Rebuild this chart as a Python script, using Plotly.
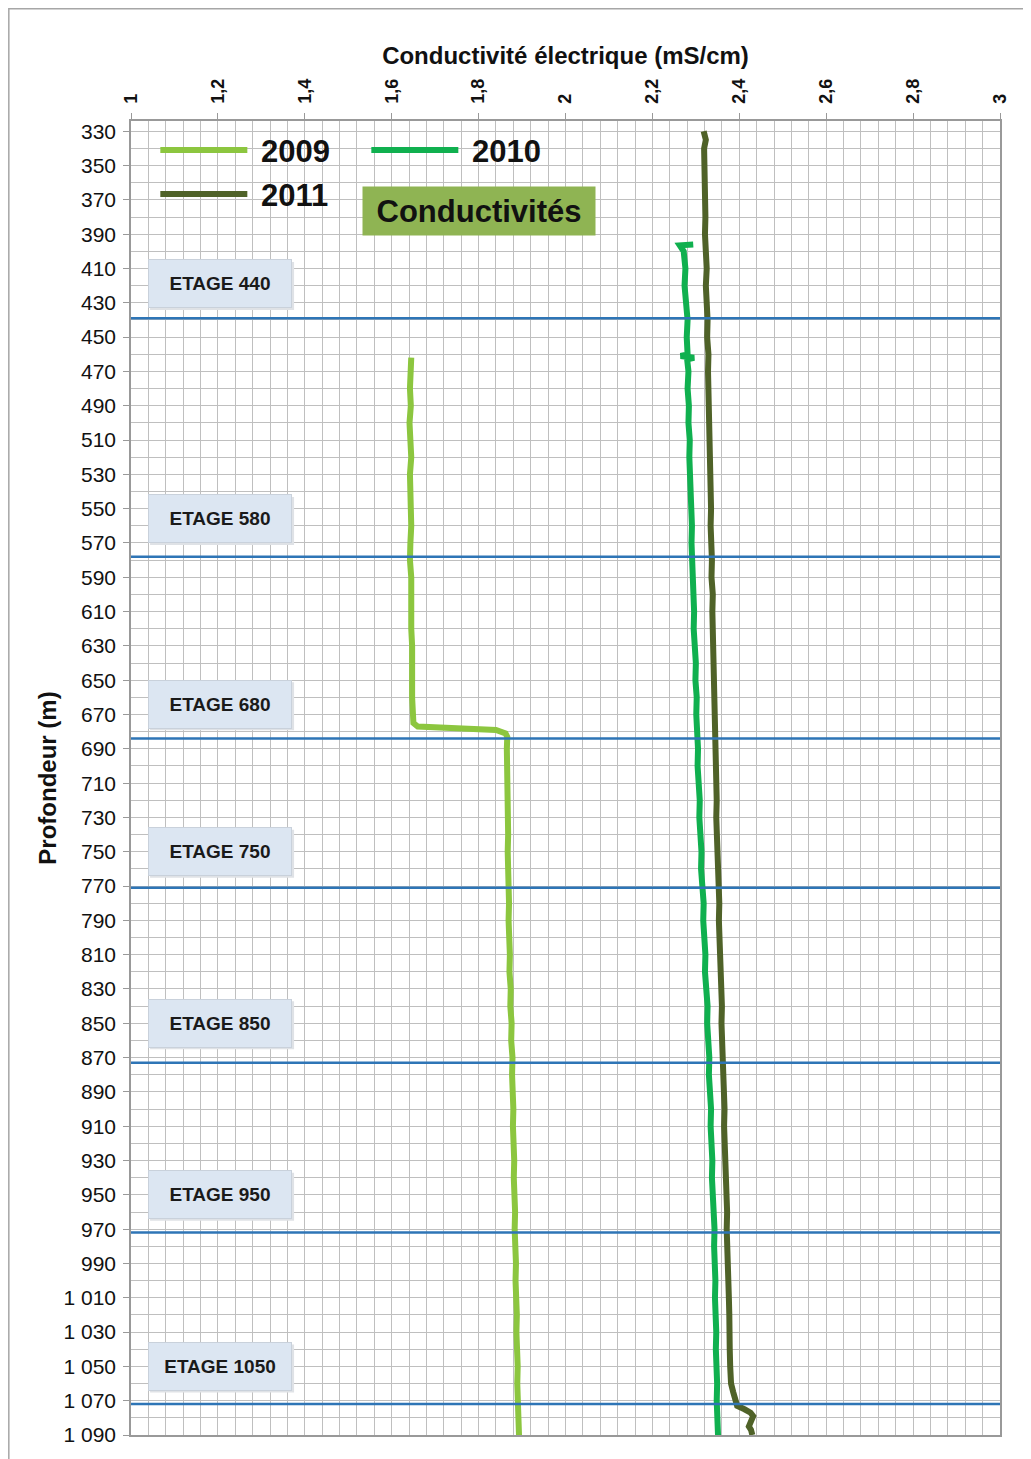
#!/usr/bin/env python3
"""Profils de conductivité électrique 2009-2011 (Plotly HTML)."""

import plotly.graph_objects as go

FONT = "Liberation Sans, Arial, sans-serif"

# --- 2009 ---------------------------------------------------------------
DEPTH_2009 = [
    462, 470, 480, 490, 500, 510, 520, 530, 540, 550, 560, 570, 580, 590,
    600, 610, 620, 630, 640, 650, 660, 670, 675, 677, 678, 679, 681, 683,
    690, 700, 710, 720, 730, 740, 750, 760, 770, 780, 790, 800, 810, 820,
    830, 840, 850, 860, 870, 880, 890, 900, 910, 920, 930, 940, 950, 960,
    970, 980, 990, 1000, 1010, 1020, 1030, 1040, 1050, 1060, 1070, 1080, 1090,
]
COND_2009 = [
    1.645, 1.643, 1.642, 1.644, 1.641, 1.643, 1.645, 1.642, 1.644, 1.643, 1.645, 1.643, 1.642, 1.645,
    1.644, 1.646, 1.645, 1.647, 1.646, 1.648, 1.647, 1.649, 1.650, 1.660, 1.760, 1.840, 1.862, 1.866,
    1.865, 1.866, 1.864, 1.867, 1.866, 1.868, 1.867, 1.869, 1.868, 1.870, 1.869, 1.871, 1.872, 1.871,
    1.874, 1.873, 1.876, 1.875, 1.878, 1.877, 1.879, 1.880, 1.879, 1.881, 1.882, 1.881, 1.883, 1.884,
    1.883, 1.885, 1.886, 1.885, 1.887, 1.888, 1.887, 1.889, 1.890, 1.889, 1.891, 1.892, 1.893,
]

# --- 2010 ---------------------------------------------------------------
DEPTH_2010 = [
    396, 396.5, 400, 410, 420, 430, 440, 450, 460, 461, 462, 463, 470, 480,
    490, 500, 510, 520, 530, 540, 550, 560, 570, 580, 590, 600, 610, 620,
    630, 640, 650, 660, 670, 680, 690, 700, 710, 720, 730, 740, 750, 760,
    770, 780, 790, 800, 810, 820, 830, 840, 850, 860, 870, 880, 890, 900,
    910, 920, 930, 940, 950, 960, 970, 980, 990, 1000, 1010, 1020, 1030,
    1040, 1050, 1060, 1070, 1080, 1090,
]
COND_2010 = [
    2.294, 2.263, 2.272, 2.276, 2.274, 2.278, 2.281, 2.279, 2.281, 2.265, 2.296, 2.280, 2.283, 2.281,
    2.284, 2.283, 2.286, 2.285, 2.287, 2.289, 2.288, 2.291, 2.290, 2.292, 2.294, 2.293, 2.296, 2.295,
    2.298, 2.300, 2.299, 2.302, 2.301, 2.304, 2.305, 2.304, 2.307, 2.309, 2.308, 2.311, 2.313, 2.312,
    2.316, 2.318, 2.317, 2.320, 2.322, 2.321, 2.325, 2.327, 2.326, 2.329, 2.331, 2.330, 2.333, 2.335,
    2.334, 2.337, 2.338, 2.337, 2.340, 2.341, 2.343, 2.342, 2.344, 2.345, 2.344, 2.346, 2.347,
    2.346, 2.348, 2.349, 2.348, 2.350, 2.351,
]

# --- 2011 ---------------------------------------------------------------
DEPTH_2011 = [
    330, 335, 340, 350, 360, 370, 380, 390, 400, 410, 420, 430, 440, 450,
    460, 470, 480, 490, 500, 510, 520, 530, 540, 550, 560, 570, 580, 590,
    600, 610, 620, 630, 640, 650, 660, 670, 680, 690, 700, 710, 720, 730,
    740, 750, 760, 770, 780, 790, 800, 810, 820, 830, 840, 850, 860, 870,
    880, 890, 900, 910, 920, 930, 940, 950, 960, 970, 980, 990, 1000, 1010,
    1020, 1030, 1040, 1050, 1060, 1065, 1070, 1073, 1075, 1077, 1079, 1082,
    1085, 1087, 1090,
]
COND_2011 = [
    2.318, 2.323, 2.319, 2.320, 2.322, 2.320, 2.322, 2.321, 2.323, 2.325, 2.323, 2.326, 2.327, 2.326,
    2.329, 2.328, 2.329, 2.331, 2.330, 2.331, 2.333, 2.332, 2.333, 2.335, 2.334, 2.336, 2.337, 2.336,
    2.339, 2.338, 2.339, 2.341, 2.340, 2.341, 2.343, 2.342, 2.344, 2.346, 2.345, 2.346, 2.348, 2.347,
    2.349, 2.351, 2.350, 2.352, 2.354, 2.353, 2.355, 2.357, 2.356, 2.358, 2.360, 2.359, 2.361, 2.363,
    2.362, 2.364, 2.366, 2.365, 2.367, 2.369, 2.368, 2.370, 2.372, 2.371, 2.373, 2.375, 2.374, 2.376,
    2.377, 2.376, 2.378, 2.379, 2.381, 2.386, 2.392, 2.395, 2.412, 2.426, 2.432, 2.428,
    2.422, 2.427, 2.430,
]

SERIES = [
    ("2009", DEPTH_2009, COND_2009, "#8cc63f", "legend"),
    ("2010", DEPTH_2010, COND_2010, "#10b04f", "legend"),
    ("2011", DEPTH_2011, COND_2011, "#4f6228", "legend2"),
]

# mine levels: label, depth of the blue line, depth of the label box
ETAGE_LABELS = ["ETAGE 440", "ETAGE 580", "ETAGE 680", "ETAGE 750", "ETAGE 850", "ETAGE 950", "ETAGE 1050"]
ETAGE_LINES = [439, 578, 684, 771, 873, 972, 1072]
ETAGE_BOX_Y = [419, 556, 664, 750, 850, 950, 1050]
ETAGE_BOX_X = 1.205

X_TICKS = [1, 1.2, 1.4, 1.6, 1.8, 2, 2.2, 2.4, 2.6, 2.8, 3]


def build_figure() -> go.Figure:
    fig = go.Figure()
    for name, depth, cond, color, leg in SERIES:
        fig.add_trace(
            go.Scatter(
                x=cond,
                y=depth,
                name=" " + name,
                mode="lines",
                line=dict(color=color, width=6),
                legend=leg,
                hovertemplate=name + " : %{x:.3f} mS/cm<br>%{y} m<extra></extra>",
            )
        )

    shapes = [
        dict(
            type="line", xref="paper", yref="y", x0=0, x1=1, y0=d, y1=d,
            line=dict(color="#2e75b6", width=2.5), layer="above",
        )
        for d in ETAGE_LINES
    ]
    # soft drop shadow under the level boxes
    shapes += [
        dict(
            type="rect", xref="x", yref="y",
            xsizemode="pixel", ysizemode="pixel",
            xanchor=ETAGE_BOX_X, yanchor=yb,
            x0=-70, x1=74, y0=-26, y1=22,
            fillcolor="#dfe2e6", line=dict(width=0), layer="above",
        )
        for yb in ETAGE_BOX_Y
    ]
    # outer frame of the picture
    shapes.append(
        dict(
            type="rect", xref="paper", yref="paper",
            x0=-0.1406, x1=1.04, y0=-0.03, y1=1.0854,
            line=dict(color="#a6a6a6", width=1.5), layer="below",
        )
    )

    annotations = [
        dict(
            text=lab, x=ETAGE_BOX_X, y=yb, xref="x", yref="y", showarrow=False,
            font=dict(family=FONT, size=19, color="#1a1a1a", weight="bold"),
            bgcolor="#dce6f2", bordercolor="#c9d1db", borderwidth=1,
            width=140, height=45, borderpad=1,
        )
        for lab, yb in zip(ETAGE_LABELS, ETAGE_BOX_Y)
    ]
    annotations.append(
        dict(
            text="Conductivités", x=1.8016, y=376.3, xref="x", yref="y", showarrow=False,
            font=dict(family=FONT, size=31, color="#111111", weight="bold"),
            bgcolor="#8fb453", width=230, height=46, borderpad=1,
        )
    )

    legend_style = dict(
        orientation="h",
        xanchor="left",
        yanchor="middle",
        x=0.028,
        bgcolor="rgba(0,0,0,0)",
        font=dict(family=FONT, size=31, color="#111111", weight="bold"),
        itemwidth=87,
        entrywidth=109,
        entrywidthmode="pixels",
    )

    fig.update_layout(
        width=1023,
        height=1451,
        autosize=False,
        margin=dict(l=123, r=31, t=113, b=24),
        paper_bgcolor="white",
        plot_bgcolor="white",
        separators=", ",
        font=dict(family=FONT, color="#111111"),
        showlegend=True,
        legend=dict(legend_style, y=0.9777),
        legend2=dict(legend_style, y=0.9442),
        shapes=shapes,
        annotations=annotations,
        xaxis=dict(
            side="top",
            range=[1, 3],
            tickmode="array",
            tickvals=X_TICKS,
            tickangle=-90,
            tickfont=dict(family=FONT, size=18, color="#111111", weight="bold"),
            ticks="outside",
            ticklen=6,
            tickcolor="#999999",
            ticklabelstandoff=6,
            showgrid=True,
            gridcolor="#bfbfbf",
            gridwidth=1,
            minor=dict(dtick=0.04, tick0=1, showgrid=True, gridcolor="#bfbfbf", gridwidth=1),
            showline=True,
            linecolor="#999999",
            linewidth=1.5,
            mirror=True,
            zeroline=False,
            title=dict(
                text="Conductivité électrique (mS/cm)",
                font=dict(family=FONT, size=24, color="#111111", weight="bold"),
                standoff=7,
            ),
        ),
        yaxis=dict(
            range=[1090, 324],
            tick0=330,
            dtick=20,
            separatethousands=True,
            tickfont=dict(family=FONT, size=21, color="#111111"),
            ticks="outside",
            ticklen=6,
            tickcolor="#999999",
            ticklabelstandoff=3,
            showgrid=True,
            gridcolor="#bfbfbf",
            gridwidth=1,
            minor=dict(dtick=10, tick0=330, showgrid=True, gridcolor="#bfbfbf", gridwidth=1),
            showline=True,
            linecolor="#999999",
            linewidth=1.5,
            mirror=True,
            zeroline=False,
            title=dict(
                text="Profondeur (m)",
                font=dict(family=FONT, size=24, color="#111111", weight="bold"),
                standoff=0,
            ),
        ),
    )
    return fig


def main():
    fig = build_figure()
    fig.write_html("out.html")


if __name__ == "__main__":
    main()
